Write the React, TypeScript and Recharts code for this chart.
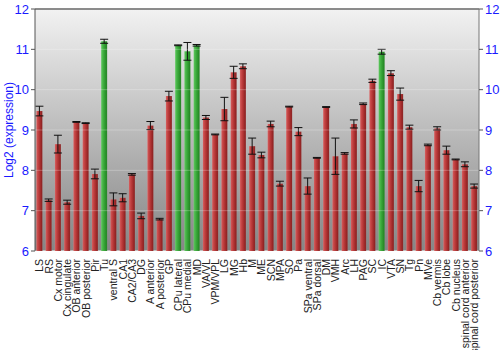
import React from 'react';
import { BarChart, Bar, XAxis, YAxis, CartesianGrid, ErrorBar, Cell, ReferenceLine } from 'recharts';

const regions = [
  'LS', 'RS', 'Cx motor', 'Cx cingulate', 'OB anterior', 'OB posterior', 'Pir', 'Tu', 'ventral S', 'CA1',
  'CA2/CA3', 'DG', 'A anterior', 'A posterior', 'GP', 'CPu lateral', 'CPu medial', 'MD', 'VA/VL', 'VPM/VPL',
  'LG', 'MG', 'Hb', 'M', 'ME', 'SCN', 'MPA', 'SO', 'Pa', 'SPa ventral',
  'SPa dorsal', 'DM', 'VMH', 'Arc', 'LH', 'PAG', 'SC', 'IC', 'VTA', 'SN',
  'Tg', 'Pn', 'MVe', 'Cb vermis', 'Cb lobe', 'Cb nucleus', 'spinal cord anterior', 'spinal cord posterior',
];
const expression = [
  9.47, 7.26, 8.65, 7.21, 9.2, 9.17, 7.91, 11.2, 7.28, 7.32,
  7.9, 6.87, 9.11, 6.79, 9.84, 11.1, 10.95, 11.1, 9.31, 8.89,
  9.52, 10.43, 10.58, 8.6, 8.38, 9.15, 7.67, 9.58, 8.96, 7.61,
  8.31, 9.57, 8.35, 8.42, 9.15, 9.65, 10.22, 10.94, 10.41, 9.89,
  9.07, 7.61, 8.63, 9.04, 8.5, 8.27, 8.15, 7.61,
];
const errors = [
  0.12, 0.03, 0.22, 0.05, 0.01, 0.01, 0.12, 0.05, 0.16, 0.1,
  0.02, 0.07, 0.1, 0.02, 0.12, 0.01, 0.22, 0.02, 0.05, 0.01,
  0.29, 0.15, 0.06, 0.2, 0.07, 0.07, 0.06, 0.01, 0.1, 0.2,
  0.01, 0.01, 0.45, 0.02, 0.1, 0.02, 0.04, 0.06, 0.06, 0.15,
  0.05, 0.14, 0.02, 0.04, 0.1, 0.01, 0.06, 0.05,
];
const highlighted = ['Tu', 'CPu lateral', 'CPu medial', 'MD', 'IC'];
const yTicks = [6, 7, 8, 9, 10, 11, 12];

const data = regions.map((r, i) => ({ region: r, value: expression[i], err: errors[i] }));

const XTick = (props: any) => {
  const { x, y, payload } = props;
  return (
    <text
      x={x}
      y={y}
      transform={`rotate(-90, ${x}, ${y})`}
      textAnchor="end"
      dy="0.36em"
      fontSize={10.5}
      fontFamily="Liberation Sans, Arial, sans-serif"
      fill="#222"
    >
      {payload.value}
    </text>
  );
};

const YLabel = () => (
  <text
    x={12.5}
    y={130}
    transform="rotate(-90, 12.5, 130)"
    textAnchor="middle"
    fontSize={12}
    fontFamily="Liberation Sans, Arial, sans-serif"
    fill="#1a1aff"
  >
    Log2 (expression)
  </text>
);

export default function App() {
  return (
    <div style={{ position: 'absolute', left: 0, top: 0, width: 500, height: 350, background: '#fff' }}>
      <BarChart
        width={500}
        height={350}
        data={data}
        margin={{ top: 9, right: 0, left: 0, bottom: 0 }}
        barCategoryGap={1.4}
      >
        <defs>
          <linearGradient id="bgGrad" x1="0" y1="0" x2="0" y2="1">
            <stop offset="0%" stopColor="#f2f2f2" />
            <stop offset="100%" stopColor="#858585" />
          </linearGradient>
          <linearGradient id="redGrad" x1="0" y1="0" x2="1" y2="0">
            <stop offset="0%" stopColor="#d65a5a" />
            <stop offset="45%" stopColor="#b83838" />
            <stop offset="100%" stopColor="#861c1c" />
          </linearGradient>
          <linearGradient id="greenGrad" x1="0" y1="0" x2="1" y2="0">
            <stop offset="0%" stopColor="#5cc85c" />
            <stop offset="45%" stopColor="#3aa83a" />
            <stop offset="100%" stopColor="#1f7f1f" />
          </linearGradient>
        </defs>
        <CartesianGrid
          vertical={false}
          stroke="#ffffff"
          strokeWidth={1.2}
          fill="url(#bgGrad)"
          fillOpacity={1}
        />
        <XAxis
          dataKey="region"
          interval={0}
          tick={<XTick />}
          tickLine={false}
          axisLine={false}
          height={99}
        />
        <YAxis
          yAxisId="left"
          domain={[6, 12]}
          ticks={yTicks}
          allowDataOverflow
          width={35}
          tick={{ fill: '#1a1aff', fontSize: 13, fontFamily: 'Liberation Sans, Arial, sans-serif' }}
          tickLine={{ stroke: '#555' }}
          tickSize={4}
          axisLine={{ stroke: '#555' }}
          label={<YLabel />}
        />
        <YAxis
          yAxisId="right"
          orientation="right"
          domain={[6, 12]}
          ticks={yTicks}
          allowDataOverflow
          width={21}
          tick={{ fill: '#1a1aff', fontSize: 13, fontFamily: 'Liberation Sans, Arial, sans-serif' }}
          tickLine={{ stroke: '#555' }}
          tickSize={4}
          axisLine={{ stroke: '#777' }}
        />
        <Bar dataKey="value" yAxisId="left" isAnimationActive={false} stroke="rgba(255,255,255,0.15)" strokeWidth={0.5}>
          {data.map((d) => (
            <Cell key={d.region} fill={highlighted.includes(d.region) ? 'url(#greenGrad)' : 'url(#redGrad)'} />
          ))}
          <ErrorBar dataKey="err" width={4} stroke="#111" strokeWidth={1} direction="y" />
        </Bar>
        {[7, 8, 9, 10, 11].map((v) => (
          <ReferenceLine key={v} y={v} yAxisId="left" stroke="#ffffff" strokeOpacity={0.25} />
        ))}
        <ReferenceLine y={12} yAxisId="left" stroke="#666" strokeWidth={1.5} />
      </BarChart>
    </div>
  );
}
